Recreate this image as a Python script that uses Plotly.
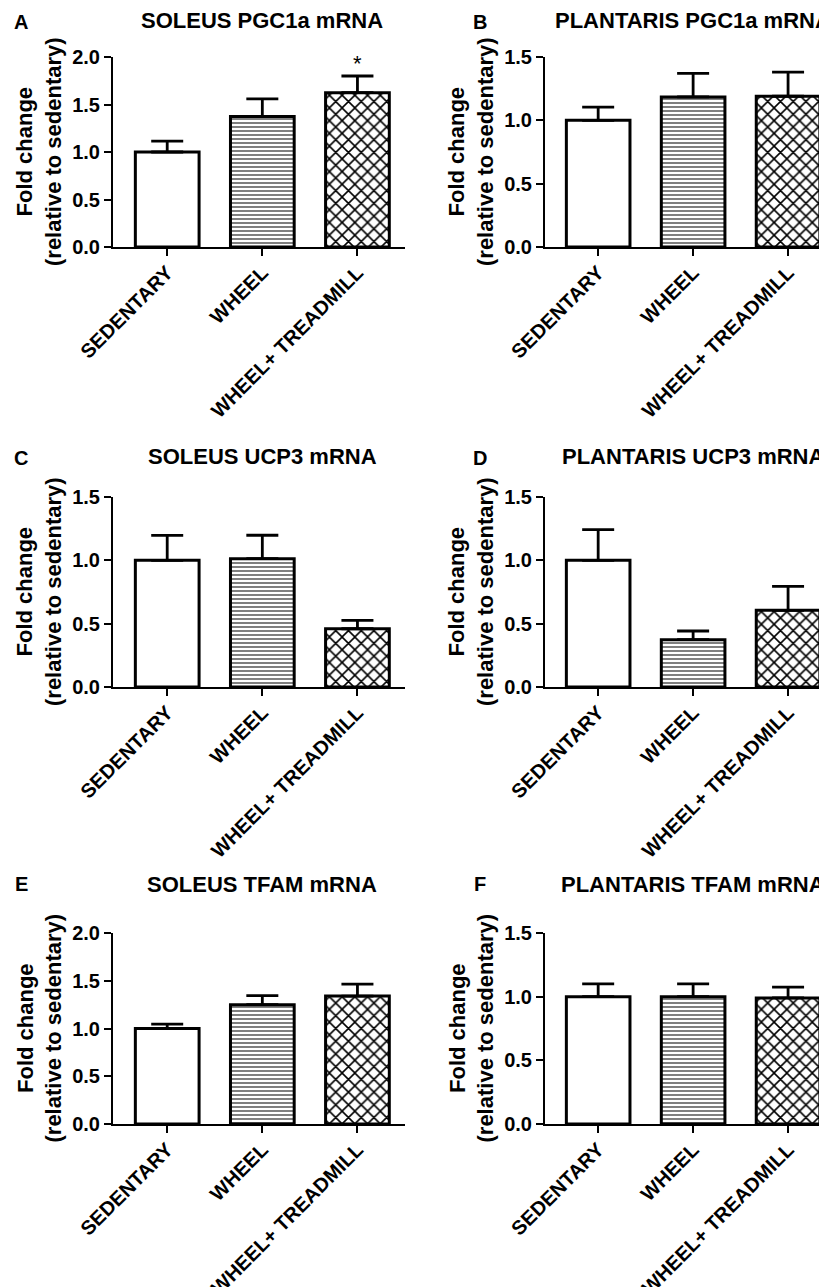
import plotly.graph_objects as go

categories = ["SEDENTARY", "WHEEL", "WHEEL+ TREADMILL"]

panel_letters = ["A", "B", "C", "D", "E", "F"]
panel_titles = ["SOLEUS PGC1a mRNA", "PLANTARIS PGC1a mRNA",
                "SOLEUS UCP3 mRNA", "PLANTARIS UCP3 mRNA",
                "SOLEUS TFAM mRNA", "PLANTARIS TFAM mRNA"]

soleus_pgc1a = [1.00, 1.375, 1.625]
soleus_pgc1a_err = [0.115, 0.185, 0.175]
plantaris_pgc1a = [1.00, 1.185, 1.19]
plantaris_pgc1a_err = [0.105, 0.185, 0.19]
soleus_ucp3 = [1.00, 1.013, 0.46]
soleus_ucp3_err = [0.197, 0.185, 0.066]
plantaris_ucp3 = [1.00, 0.374, 0.605]
plantaris_ucp3_err = [0.242, 0.068, 0.19]
soleus_tfam = [1.00, 1.25, 1.34]
soleus_tfam_err = [0.045, 0.095, 0.125]
plantaris_tfam = [1.00, 1.00, 0.99]
plantaris_tfam_err = [0.10, 0.10, 0.085]

y_max = [2.0, 1.5, 1.5, 1.5, 2.0, 1.5]
significance = [["", "", "*"], ["", "", ""], ["", "", ""],
                ["", "", ""], ["", "", ""], ["", "", ""]]

values = [soleus_pgc1a, plantaris_pgc1a, soleus_ucp3, plantaris_ucp3, soleus_tfam, plantaris_tfam]
errors = [soleus_pgc1a_err, plantaris_pgc1a_err, soleus_ucp3_err, plantaris_ucp3_err,
          soleus_tfam_err, plantaris_tfam_err]

# page body adds an 8px offset; the figure is sized so it ends at the window edge
OFF = 8
W, H = 827 - OFF, 1287 - OFF
FONT = "Arial, 'Liberation Sans', Helvetica, sans-serif"


def px(xv):
    return (xv - OFF) / W


def py(yv):
    return 1 - (yv - OFF) / H


# pixel layout of each panel in window coordinates
col_x = [(113, 405), (545, 827)]
row_y = [(57, 247), (497, 687), (933, 1124)]
xranges = [[-0.57, 2.5], [-0.56, 2.41]]
letter_y = [22, 458, 884]
title_y = [20, 457, 884]

fig = go.Figure()
annotations = []
patterns = [dict(shape=""),
            dict(shape="-", fgcolor="#2a2a2a", bgcolor="white", size=4, solidity=0.3),
            dict(shape="x", fgcolor="black", bgcolor="white", size=9, solidity=0.32)]

layout = {}
for i in range(6):
    r, c = divmod(i, 2)
    x0, x1 = col_x[c]
    ytop, ybot = row_y[r]
    ax = "" if i == 0 else str(i + 1)
    xa, ya = "x" + ax, "y" + ax
    for k, cat in enumerate(categories):
        fig.add_trace(go.Bar(
            x=[cat], y=[values[i][k]], xaxis=xa, yaxis=ya,
            width=0.67,
            marker=dict(color="white", line=dict(color="black", width=3),
                        pattern=patterns[k]),
            error_y=dict(type="data", array=[errors[i][k]], arrayminus=[0],
                         symmetric=False, color="black", thickness=2.8, width=16),
            showlegend=False, hoverinfo="skip"))
        if significance[i][k]:
            annotations.append(dict(x=cat, y=values[i][k] + errors[i][k], xref=xa, yref=ya,
                                    text=significance[i][k], showarrow=False,
                                    yanchor="bottom", yshift=-2,
                                    font=dict(size=22, color="black", family=FONT)))
    layout["xaxis" + ax] = dict(
        domain=[px(x0), min(1.0, px(x1))], anchor=ya, type="category",
        categoryorder="array", categoryarray=categories, automargin=False,
        range=xranges[c], showline=True, linecolor="black", linewidth=2,
        ticks="outside", ticklen=7, tickwidth=2, tickcolor="black",
        tickangle=-45, showgrid=False, zeroline=False, ticklabelstandoff=-3,
        tickfont=dict(size=20, color="black", family=FONT, weight="bold"))
    layout["yaxis" + ax] = dict(
        domain=[py(ybot), py(ytop)], anchor=xa, automargin=False,
        range=[0, y_max[i]], dtick=0.5, tickformat=".1f",
        showline=True, linecolor="black", linewidth=2,
        ticks="outside", ticklen=7, tickwidth=2, tickcolor="black",
        showgrid=False, zeroline=False,
        tickfont=dict(size=20, color="black", family=FONT, weight="bold"))
    # y-axis title
    annotations.append(dict(
        x=px(x0 - 74), y=py((ytop + ybot) / 2), xref="paper", yref="paper",
        text="Fold change<br>(relative to sedentary)", textangle=-90,
        showarrow=False, xanchor="center", yanchor="middle",
        font=dict(size=22, color="black", family=FONT, weight="bold")))
    # panel title
    annotations.append(dict(
        x=categories[1], y=py(title_y[r]), xref=xa, yref="paper",
        text=panel_titles[i], showarrow=False, xanchor="center", yanchor="middle",
        font=dict(size=22, color="black", family=FONT, weight="bold")))
    # panel letter
    annotations.append(dict(
        x=px(21 if c == 0 else 480), y=py(letter_y[r]), xref="paper", yref="paper",
        text=panel_letters[i], showarrow=False, xanchor="center", yanchor="middle",
        font=dict(size=20, color="black", family=FONT, weight="bold")))

fig.update_layout(**layout)
fig.update_layout(
    template="none",
    width=W, height=H, margin=dict(l=0, r=0, t=0, b=0, autoexpand=False),
    paper_bgcolor="white", plot_bgcolor="white",
    barmode="overlay", annotations=annotations,
    font=dict(family=FONT, color="black"))

fig.write_html("out.html")
